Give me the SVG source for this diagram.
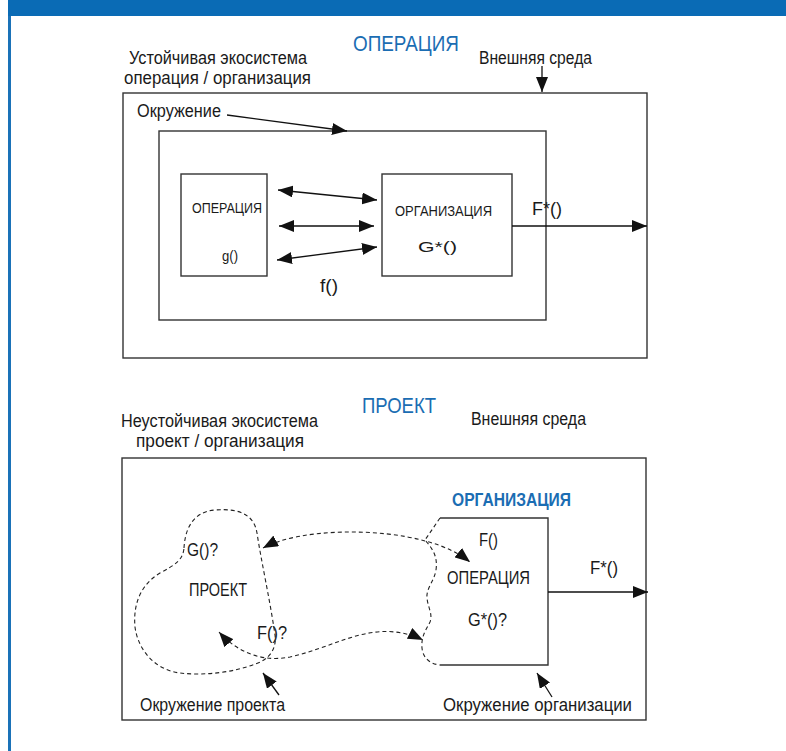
<svg xmlns="http://www.w3.org/2000/svg" width="786" height="751" viewBox="0 0 786 751">
<defs>
<style>
text{font-family:"Liberation Sans",Arial,sans-serif;fill:#1a1a1a;font-size:17.5px}
.t{font-size:22px;fill:#1b6db3}
.s{font-size:15px}
.b{font-weight:bold;fill:#1b6db3}
.box{fill:none;stroke:#333;stroke-width:1.4}
.ln{fill:none;stroke:#111;stroke-width:1.3}
.dl{fill:none;stroke:#222;stroke-width:1.1;stroke-dasharray:4 3}
</style>
<marker id="ah" markerUnits="userSpaceOnUse" markerWidth="16" markerHeight="12" refX="15" refY="6" orient="auto-start-reverse"><path d="M0,0 L15,6 L0,12 z" fill="#111"/></marker>
</defs>
<rect width="786" height="751" fill="#fff"/>
<rect x="8" y="0" width="778" height="16" fill="#0a6bb5"/>
<rect x="8" y="16" width="3" height="735" fill="#1a72b8"/>

<g id="top-titles">
<text class="t" x="353" y="51" textLength="106" lengthAdjust="spacingAndGlyphs">ОПЕРАЦИЯ</text>
<text x="129" y="64" textLength="178" lengthAdjust="spacingAndGlyphs">Устойчивая экосистема</text>
<text x="124" y="84" textLength="187" lengthAdjust="spacingAndGlyphs">операция / организация</text>
<text x="479" y="64" textLength="113" lengthAdjust="spacingAndGlyphs">Внешняя среда</text>
<text x="137" y="117" textLength="84" lengthAdjust="spacingAndGlyphs">Окружение</text>
</g>
<g id="outer-env-top"><rect class="box" x="123" y="93" width="524" height="265"/></g>
<g id="inner-env-top"><rect class="box" x="159" y="131" width="387" height="189"/></g>
<g id="operation-top">
<rect class="box" x="181" y="174" width="86" height="102"/>
<text class="s" x="192" y="213" textLength="70" lengthAdjust="spacingAndGlyphs">ОПЕРАЦИЯ</text>
<text class="s" x="222" y="261" textLength="16" lengthAdjust="spacingAndGlyphs">g()</text>
</g>
<g id="organization-top">
<rect class="box" x="382" y="174" width="130" height="102"/>
<text class="s" x="395" y="216" textLength="97" lengthAdjust="spacingAndGlyphs">ОРГАНИЗАЦИЯ</text>
<text class="s" x="418" y="252" textLength="39" lengthAdjust="spacingAndGlyphs">G*()</text>
</g>
<g id="top-labels">
<text x="532" y="215" textLength="30" lengthAdjust="spacingAndGlyphs">F*()</text>
<text x="320" y="292" textLength="18" lengthAdjust="spacingAndGlyphs">f()</text>
</g>

<g id="bottom-titles">
<text class="t" x="362" y="413" textLength="74" lengthAdjust="spacingAndGlyphs">ПРОЕКТ</text>
<text x="121" y="427" textLength="197" lengthAdjust="spacingAndGlyphs">Неустойчивая экосистема</text>
<text x="136" y="447" textLength="168" lengthAdjust="spacingAndGlyphs">проект / организация</text>
<text x="471" y="425" textLength="115" lengthAdjust="spacingAndGlyphs">Внешняя среда</text>
</g>
<g id="outer-env-bottom"><rect class="box" x="122" y="458" width="524" height="262"/></g>
<g id="organization-bottom">
<text class="b" x="452" y="506" textLength="119" lengthAdjust="spacingAndGlyphs">ОРГАНИЗАЦИЯ</text>
<path class="box" d="M440,518 L548,518 L548,665 L440,665"/>
<path class="dl" d="M440,518 L425,540 C432,548 438,556 436,570 C434,582 426,588 427,598 C428,608 433,614 430,622 C426,630 421,636 422,648 C423,658 430,664 440,665"/>
<text x="479" y="546" textLength="19" lengthAdjust="spacingAndGlyphs">F()</text>
<text x="447" y="584" textLength="83" lengthAdjust="spacingAndGlyphs">ОПЕРАЦИЯ</text>
<text x="468" y="626" textLength="39" lengthAdjust="spacingAndGlyphs">G*()?</text>
</g>
<g id="project-bottom">
<path class="dl" d="M184,548 C185,530 192,512 215,510 C240,508 254,515 257,533 C261,560 270,600 275,635 C277,650 268,660 255,664 C235,672 205,676 180,673 C155,670 138,650 135,627 C133,605 140,585 160,573 C175,565 183,560 184,548 Z"/>
<text x="187" y="556" textLength="31" lengthAdjust="spacingAndGlyphs">G()?</text>
<text x="189" y="596" textLength="58" lengthAdjust="spacingAndGlyphs">ПРОЕКТ</text>
<text x="257" y="639" textLength="30" lengthAdjust="spacingAndGlyphs">F()?</text>
</g>
<g id="bottom-labels">
<text x="590" y="574" textLength="28" lengthAdjust="spacingAndGlyphs">F*()</text>
<text x="140" y="711" textLength="145" lengthAdjust="spacingAndGlyphs">Окружение проекта</text>
<text x="443" y="711" textLength="189" lengthAdjust="spacingAndGlyphs">Окружение организации</text>
</g>

<g id="connectors">
<path class="ln" d="M542,66 L542,92" marker-end="url(#ah)"/>
<path class="ln" d="M227,115 L347,131" marker-end="url(#ah)"/>
<path class="ln" d="M278,190 L377,200" marker-start="url(#ah)" marker-end="url(#ah)"/>
<path class="ln" d="M279,226 L374,226" marker-start="url(#ah)" marker-end="url(#ah)"/>
<path class="ln" d="M277,260 L377,247" marker-start="url(#ah)" marker-end="url(#ah)"/>
<path class="ln" d="M512,226 L647,226" marker-end="url(#ah)"/>
<path class="ln" d="M548,592 L648,592" marker-end="url(#ah)"/>
<path class="dl" d="M263,548 C300,528 380,528 425,541 C445,546 460,554 470,562" marker-start="url(#ah)" marker-end="url(#ah)"/>
<path class="dl" d="M219,632 C235,650 260,663 290,657 C330,648 360,628 395,632 C405,633 415,636 423,640" marker-start="url(#ah)" marker-end="url(#ah)"/>
<path class="ln" d="M279,695 L263,673" marker-end="url(#ah)"/>
<path class="ln" d="M552,697 L537,673" marker-end="url(#ah)"/>
</g>
</svg>
